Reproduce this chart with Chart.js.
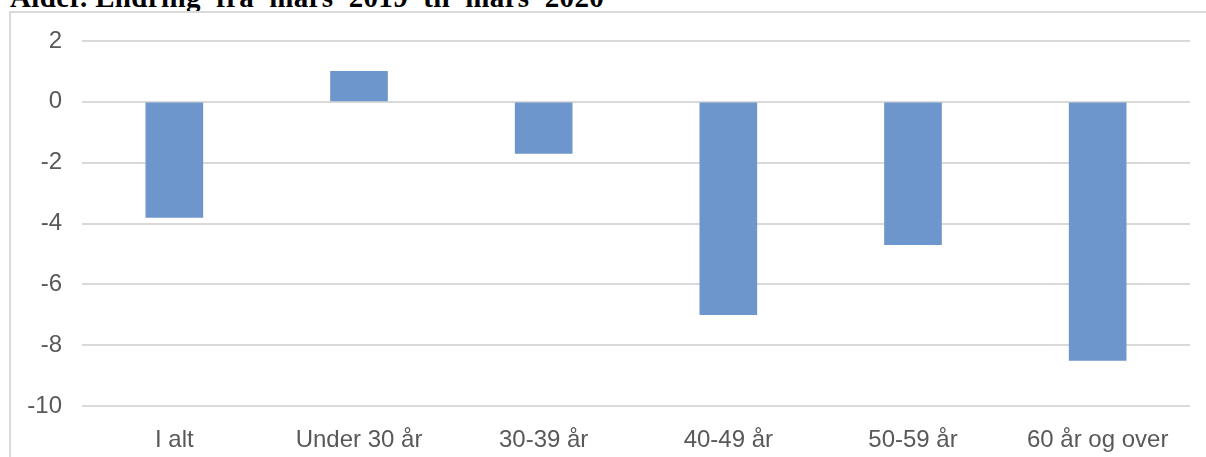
<!DOCTYPE html>
<html>
<head>
<meta charset="utf-8">
<script src="https://cdn.jsdelivr.net/npm/chart.js@4.4.1/dist/chart.umd.min.js"></script>
<style>
    body { margin: 0; background: #fff; overflow: hidden; }
    #title {
        position: absolute; left: 10px; top: -19px;
        font: bold 29px "Liberation Serif", "Times New Roman", serif;
        letter-spacing: 0.35px;
        color: #000; white-space: pre;
    }
    #box {
        position: absolute; left: 9px; top: 11px; width: 1400px; height: 600px;
        border: 2px solid #d9d9d9;
    }
    #wrap { position: absolute; left: 0; top: 0; width: 1206px; height: 457px; }
</style>
</head>
<body>
<div id="title">Alder. Endring  fra  mars  2019  til  mars  2020</div>
<div id="box"></div>
<div id="wrap"><canvas id="endringChart"></canvas></div>
<script>
// Categories and values (change in percent)
var categories = ['I alt', 'Under 30 år', '30-39 år', '40-49 år', '50-59 år', '60 år og over'];
var values = [-3.8, 1.0, -1.7, -7.0, -4.7, -8.5];
var yTicks = [2, 0, -2, -4, -6, -8, -10];

document.addEventListener('DOMContentLoaded', function () {
    var ctx = document.getElementById('endringChart').getContext('2d');
    var textFont = { family: '"Liberation Sans", Arial, sans-serif', size: 24 };

    new Chart(ctx, {
        type: 'bar',
        data: {
            labels: categories,
            datasets: [{
                data: values,
                backgroundColor: '#6d96cc',
                borderWidth: 0,
                barThickness: 57
            }]
        },
        options: {
            responsive: true,
            maintainAspectRatio: false,
            animation: false,
            layout: { padding: { left: 0, right: 16, top: 41, bottom: 0 } },
            plugins: {
                legend: { display: false },
                tooltip: { enabled: false }
            },
            scales: {
                x: {
                    grid: { display: false },
                    border: { display: false },
                    ticks: { color: '#595959', font: textFont, padding: 12, maxRotation: 0 },
                    afterFit: function (scale) { scale.height = 51; }
                },
                y: {
                    min: -10,
                    max: 2,
                    afterBuildTicks: function (scale) {
                        scale.ticks = yTicks.map(function (v) { return { value: v }; });
                    },
                    grid: { color: '#d9d9d9', lineWidth: 2, drawTicks: false },
                    border: { display: false },
                    ticks: { color: '#595959', font: textFont, padding: 20 },
                    afterFit: function (scale) { scale.width = 82; }
                }
            }
        }
    });
});
</script>
</body>
</html>
